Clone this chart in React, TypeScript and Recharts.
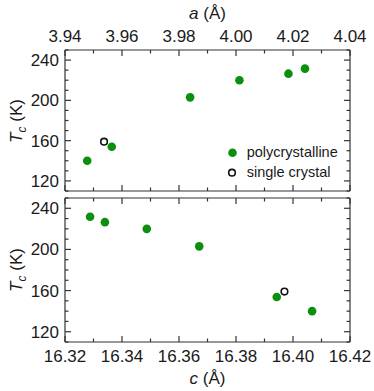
import React from 'react';
import { ScatterChart, Scatter, XAxis, YAxis, Legend } from 'recharts';

// ---- data ----
const aPoly = [3.9478, 3.9564, 3.9839, 4.0012, 4.0184, 4.0242];
const tcPolyA = [140, 154, 203, 220, 226.5, 231.5];
const aSingle = [3.9537];
const tcSingleA = [159];

const cPoly = [16.3288, 16.334, 16.3487, 16.3671, 16.3943, 16.4067];
const tcPolyC = [231.8, 226.5, 220, 203, 153.8, 140];
const cSingle = [16.397];
const tcSingleC = [159];

const aTicks = [3.94, 3.95, 3.96, 3.97, 3.98, 3.99, 4.0, 4.01, 4.02, 4.03, 4.04];
const cTicks = [16.32, 16.33, 16.34, 16.35, 16.36, 16.37, 16.38, 16.39, 16.4, 16.41, 16.42];
const tcTicks = [110, 120, 130, 140, 150, 160, 170, 180, 190, 200, 210, 220, 230, 240, 250];

const seriesNames = ['polycrystalline', 'single crystal'];

// ---- styles ----
const GREEN = '#0b8f0f';
const AXIS = '#333333';
const TEXT = '#1a1a1a';
const FONT = '"Liberation Sans", Arial, Helvetica, sans-serif';
const TICK_FS = 17;

const toPts = (xs: number[], ys: number[]) => xs.map((x, i) => ({ x, y: ys[i] }));

const XTick = (props: any) => {
  const { x, y, index, side, showLabel } = props;
  const value = props.payload?.value as number;
  const major = index % 2 === 0;
  const len = major ? 6 : 3.5;
  const dir = side === 'top' ? 1 : -1;
  return (
    <g>
      <line x1={x} y1={y} x2={x} y2={y + dir * len} stroke={AXIS} strokeWidth={1.2} />
      {showLabel && major ? (
        <text
          x={x}
          y={side === 'top' ? y - 8 : y + 20}
          textAnchor="middle"
          fontSize={TICK_FS}
          fontFamily={FONT}
          fill={TEXT}
        >
          {value.toFixed(2)}
        </text>
      ) : null}
    </g>
  );
};

const YTick = (props: any) => {
  const { x, y, side, showLabel } = props;
  const value = props.payload?.value as number;
  const major = (value - 120) % 40 === 0;
  const len = major ? 6 : 3.5;
  const dir = side === 'left' ? 1 : -1;
  return (
    <g>
      <line x1={x} y1={y} x2={x + dir * len} y2={y} stroke={AXIS} strokeWidth={1.2} />
      {showLabel && major ? (
        <text x={x - 6} y={y + 6} textAnchor="end" fontSize={TICK_FS} fontFamily={FONT} fill={TEXT}>
          {value}
        </text>
      ) : null}
    </g>
  );
};

const FilledDot = (p: any) => <circle cx={p.cx} cy={p.cy} r={4.3} fill={GREEN} />;
const OpenDot = (p: any) => (
  <circle cx={p.cx} cy={p.cy} r={3.3} fill="#ffffff" stroke="#111111" strokeWidth={1.6} />
);

const LegendBox = () => (
  <svg width={140} height={46} style={{ display: 'block' }}>
    <circle cx={12.5} cy={12.7} r={4.3} fill={GREEN} />
    <text x={26.7} y={16.7} fontSize={14.5} fontFamily={FONT} fill={TEXT}>
      {seriesNames[0]}
    </text>
    <circle cx={12} cy={32.7} r={3.3} fill="#fff" stroke="#111" strokeWidth={1.6} />
    <text x={26.7} y={36.7} fontSize={14.5} fontFamily={FONT} fill={TEXT}>
      {seriesNames[1]}
    </text>
  </svg>
);

const axisLine = { stroke: AXIS, strokeWidth: 1.2 };

const Panel = (props: {
  height: number;
  margin: any;
  ticksX: number[];
  domainX: [number, number];
  labelSide: 'top' | 'bottom';
  topH: number;
  botH: number;
  poly: { x: number; y: number }[];
  single: { x: number; y: number }[];
  legend?: boolean;
}) => {
  const { height, margin, ticksX, domainX, labelSide, topH, botH, poly, single, legend } = props;
  const mainX = labelSide === 'top' ? 't' : 'b';
  return (
    <ScatterChart width={374} height={height} margin={margin}>
      <XAxis
        xAxisId="t"
        orientation="top"
        type="number"
        dataKey="x"
        domain={domainX}
        ticks={ticksX}
        interval={0}
        allowDataOverflow
        height={topH}
        tickSize={0}
        tickMargin={0}
        tickLine={false}
        axisLine={axisLine}
        tick={(p: any) => <XTick {...p} side="top" showLabel={labelSide === 'top'} />}
      />
      <XAxis
        xAxisId="b"
        orientation="bottom"
        type="number"
        dataKey="x"
        domain={domainX}
        ticks={ticksX}
        interval={0}
        allowDataOverflow
        height={botH}
        tickSize={0}
        tickMargin={0}
        tickLine={false}
        axisLine={axisLine}
        tick={(p: any) => <XTick {...p} side="bottom" showLabel={labelSide === 'bottom'} />}
      />
      <YAxis
        yAxisId="l"
        orientation="left"
        type="number"
        dataKey="y"
        domain={[110, 250]}
        ticks={tcTicks}
        interval={0}
        allowDataOverflow
        width={40}
        tickSize={0}
        tickMargin={0}
        tickLine={false}
        axisLine={axisLine}
        tick={(p: any) => <YTick {...p} side="left" showLabel />}
      />
      <YAxis
        yAxisId="r"
        orientation="right"
        type="number"
        dataKey="y"
        domain={[110, 250]}
        ticks={tcTicks}
        interval={0}
        allowDataOverflow
        width={1}
        tickSize={0}
        tickMargin={0}
        tickLine={false}
        axisLine={axisLine}
        tick={(p: any) => <YTick {...p} side="right" showLabel={false} />}
      />
      <Scatter
        name={seriesNames[0]}
        data={poly}
        xAxisId={mainX}
        yAxisId="l"
        shape={FilledDot}
        isAnimationActive={false}
      />
      <Scatter
        name={seriesNames[1]}
        data={single}
        xAxisId={mainX}
        yAxisId="l"
        shape={OpenDot}
        isAnimationActive={false}
      />
      {legend ? (
        <Legend
          layout="vertical"
          align="center"
          verticalAlign="middle"
          wrapperStyle={{ left: 220, top: 140, width: 140, height: 46 }}
          content={() => <LegendBox />}
        />
      ) : null}
    </ScatterChart>
  );
};

const TcTitle = ({ cy }: { cy: number }) => (
  <text
    transform={`translate(22, ${cy}) rotate(-90)`}
    x={0}
    y={0}
    textAnchor="middle"
    fontSize={17}
    fontFamily={FONT}
    fill={TEXT}
  >
    <tspan fontStyle="italic">T</tspan>
    <tspan fontStyle="italic" fontSize={12} dy={4}>c</tspan>
    <tspan dy={-4}> (K)</tspan>
  </text>
);

export default function App() {
  return (
    <div style={{ position: 'absolute', left: 0, top: 0, width: 374, height: 391 }}>
      <svg width={374} height={391} style={{ position: 'absolute', left: 0, top: 0 }}>
        <text x={207.5} y={18.5} textAnchor="middle" fontSize={17} fontFamily={FONT} fill={TEXT}>
          <tspan fontStyle="italic">a</tspan>
          <tspan> (Å)</tspan>
        </text>
        <text x={207.5} y={383.5} textAnchor="middle" fontSize={17} fontFamily={FONT} fill={TEXT}>
          <tspan fontStyle="italic">c</tspan>
          <tspan> (Å)</tspan>
        </text>
        <TcTitle cy={121} />
        <TcTitle cy={270} />
      </svg>
      <div style={{ position: 'absolute', left: 0, top: 0 }}>
        <Panel
          height={196}
          margin={{ top: 20, right: 23, bottom: 4, left: 25 }}
          ticksX={aTicks}
          domainX={[3.94, 4.04]}
          labelSide="top"
          topH={30}
          botH={1}
          poly={toPts(aPoly, tcPolyA)}
          single={toPts(aSingle, tcSingleA)}
          legend
        />
      </div>
      <div style={{ position: 'absolute', left: 0, top: 196 }}>
        <Panel
          height={195}
          margin={{ top: 1, right: 23, bottom: 4, left: 25 }}
          ticksX={cTicks}
          domainX={[16.32, 16.42]}
          labelSide="bottom"
          topH={1}
          botH={45}
          poly={toPts(cPoly, tcPolyC)}
          single={toPts(cSingle, tcSingleC)}
        />
      </div>
    </div>
  );
}
